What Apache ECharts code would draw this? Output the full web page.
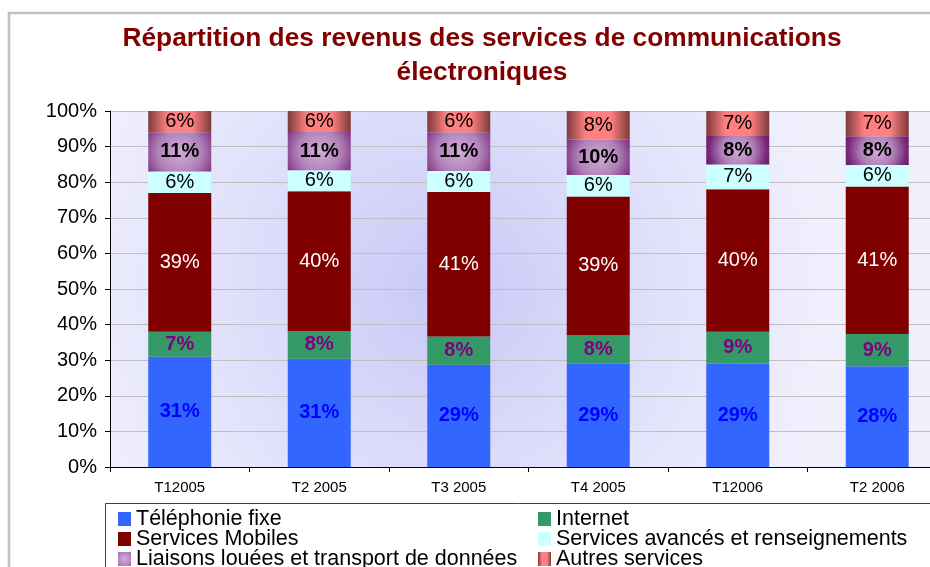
<!DOCTYPE html>
<html>
<head>
<meta charset="utf-8">
<title>Répartition des revenus</title>
<script src="https://cdn.jsdelivr.net/npm/echarts@6/dist/echarts.min.js"></script>
<style>
html,body{margin:0;padding:0;background:#fff;}
#chart{width:930px;height:567px;}
</style>
</head>
<body>
<div id="chart"></div>
<script>
// trimestres
var categories=['T12005','T2 2005','T3 2005','T4 2005','T12006','T2 2006'];
// valeurs affichees (en %)
var fixe=[31,31,29,29,29,28];
var internet=[7,8,8,8,9,9];
var mobiles=[39,40,41,39,40,41];
var avances=[6,6,6,6,7,6];
var liaisons=[11,11,11,10,8,8];
var autres=[6,6,6,8,7,7];
var yTicks=[0,10,20,30,40,50,60,70,80,90,100];

var seriesNames=['Téléphonie fixe','Internet','Services Mobiles','Services avancés et renseignements','Liaisons louées et transport de données','Autres services'];
var allValues=[fixe,internet,mobiles,avances,liaisons,autres];

// 100% empile : chaque colonne est ramenee a 100
function totals(){
    var t=[];
    for(var i=0;i<categories.length;i++){
        var s=0;
        for(var k=0;k<allValues.length;k++){
            s+=allValues[k][i];
        }
        t.push(s);
    }
    return t;
}
var sums=totals();

function buildData(arr){
    return arr.map(function(v,i){
        return {value:v/sums[i]*100,raw:v};
    });
}

var styles=[
    {
        color:'#3366ff',
        label:{color:'#0000ff',fontWeight:'bold'}
    },
    {
        color:'#339966',
        label:{color:'#800080',fontWeight:'bold'}
    },
    {
        color:'#800000',
        label:{color:'#ffffff',fontWeight:'normal'}
    },
    {
        color:'#ccffff',
        label:{color:'#000000',fontWeight:'normal'}
    },
    {
        color:{
            type:'radial',x:0.5,y:0.5,r:1.25,
            colorStops:[
                {offset:0,color:'#d2acd8'},
                {offset:0.45,color:'#b081b8'},
                {offset:0.8,color:'#7a2c7c'},
                {offset:1,color:'#641465'}
            ]
        },
        label:{color:'#000000',fontWeight:'bold'}
    },
    {
        color:{
            type:'linear',x:0,y:0,x2:1,y2:0,
            colorStops:[
                {offset:0,color:'#7e3a3a'},
                {offset:0.3,color:'#ff8080'},
                {offset:0.7,color:'#ff8080'},
                {offset:1,color:'#7e3a3a'}
            ]
        },
        label:{color:'#000000',fontWeight:'normal'}
    }
];

var series=seriesNames.map(function(name,k){
    return {
        name:name,
        type:'bar',
        stack:'total',
        barWidth:63,
        data:buildData(allValues[k]),
        itemStyle:{color:styles[k].color},
        label:{
            show:true,
            position:'inside',
            fontSize:20,
            color:styles[k].label.color,
            fontWeight:styles[k].label.fontWeight,
            formatter:function(p){
                return p.data.raw+'%';
            }
        }
    };
});

var legendText={fontSize:21.5,color:'#000',lineHeight:18.5};

var chart=echarts.init(document.getElementById('chart'));
chart.setOption({
    animation:false,
    textStyle:{fontFamily:"'Liberation Sans', Arial, sans-serif"},
    title:{
        text:'Répartition des revenus des services de communications\nélectroniques',
        left:477,
        top:17,
        textAlign:'center',
        textStyle:{
            color:'#800000',
            fontSize:26.3,
            fontWeight:'bold',
            lineHeight:34
        }
    },
    graphic:[
        {
            type:'rect',
            shape:{x:9,y:13,width:1000,height:1000},
            style:{fill:'none',stroke:'#c0c0c0',lineWidth:2.5},
            silent:true
        },
        {
            type:'rect',
            shape:{x:105.5,y:503.5,width:900,height:100},
            style:{fill:'none',stroke:'#404040',lineWidth:1},
            silent:true
        }
    ],
    legend:[
        {
            orient:'vertical',
            left:113,
            top:503,
            height:90,
            itemGap:-2,
            itemWidth:13,
            itemHeight:14,
            icon:'rect',
            data:[seriesNames[0],seriesNames[2],seriesNames[4]],
            textStyle:legendText
        },
        {
            orient:'vertical',
            left:533,
            top:503,
            height:90,
            itemGap:-2,
            itemWidth:13,
            itemHeight:14,
            icon:'rect',
            data:[seriesNames[1],seriesNames[3],seriesNames[5]],
            textStyle:legendText
        }
    ],
    grid:{
        left:110,
        top:111,
        width:837,
        height:356,
        outerBoundsMode:'none',
        containLabel:false,
        show:true,
        borderWidth:0,
        backgroundColor:{
            type:'radial',x:0.4,y:0.5,r:1.1,
            colorStops:[
                {offset:0,color:'#c8c8f7'},
                {offset:0.5,color:'#dedefb'},
                {offset:1,color:'#f0f0fd'}
            ]
        }
    },
    xAxis:{
        type:'category',
        data:categories,
        axisLine:{lineStyle:{color:'#000',width:1}},
        axisTick:{show:true,length:5,lineStyle:{color:'#000'}},
        axisLabel:{color:'#000',fontSize:15,margin:13}
    },
    yAxis:{
        type:'value',
        min:yTicks[0],
        max:yTicks[yTicks.length-1],
        interval:10,
        axisLine:{show:true,lineStyle:{color:'#000',width:1}},
        axisTick:{show:true,length:5,lineStyle:{color:'#000'}},
        axisLabel:{color:'#000',fontSize:20,margin:13,formatter:'{value}%'},
        splitLine:{lineStyle:{color:'#c0c0c0',width:1}}
    },
    series:series
});
</script>
</body>
</html>
